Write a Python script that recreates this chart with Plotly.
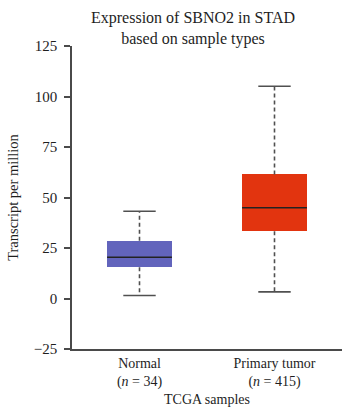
import plotly.graph_objects as go

# Box-plot summary statistics (TPM) per sample group
categories = ["Normal", "Primary tumor"]
sample_sizes = [34, 415]
lower_whisker = [1.5, 3.3]
q1 = [15.5, 33.3]
median = [20.4, 44.9]
q3 = [28.6, 61.4]
upper_whisker = [43.2, 105.1]
box_colors = ["#6264BC", "#E2340F"]

y_tick_vals = [-25, 0, 25, 50, 75, 100, 125]

BOX_W = 0.48
CAP_W = 0.24
SERIF = "Liberation Serif"
AXIS_COLOR = "#4a4a4a"
TEXT_COLOR = "#1e1e1e"

fig = go.Figure()

# boxes (interquartile range) as floating bars
for i, cat in enumerate(categories):
    fig.add_trace(go.Bar(
        x=[i], y=[q3[i] - q1[i]], base=[q1[i]], width=BOX_W,
        marker=dict(color=box_colors[i], line=dict(width=0)),
        showlegend=False, hoverinfo="skip",
    ))

# dashed whiskers
wx, wy = [], []
for i in range(len(categories)):
    wx += [i, i, None, i, i, None]
    wy += [q3[i], upper_whisker[i], None, q1[i], lower_whisker[i], None]
fig.add_trace(go.Scatter(
    x=wx, y=wy, mode="lines",
    line=dict(color="#505050", width=1.6, dash="4px,3px"),
    showlegend=False, hoverinfo="skip",
))

# whisker caps
cx, cy = [], []
for i in range(len(categories)):
    for v in (upper_whisker[i], lower_whisker[i]):
        cx += [i - CAP_W / 2, i + CAP_W / 2, None]
        cy += [v, v, None]
fig.add_trace(go.Scatter(
    x=cx, y=cy, mode="lines",
    line=dict(color="#505050", width=1.6),
    showlegend=False, hoverinfo="skip",
))

# medians
mx, my = [], []
for i in range(len(categories)):
    mx += [i - BOX_W / 2, i + BOX_W / 2, None]
    my += [median[i], median[i], None]
fig.add_trace(go.Scatter(
    x=mx, y=my, mode="lines",
    line=dict(color="#222222", width=1.5),
    showlegend=False, hoverinfo="skip",
))

tick_text = [f"{c}<br>(<i>n</i> = {n})" for c, n in zip(categories, sample_sizes)]

# two-line chart title
fig.add_annotation(
    text="Expression of SBNO2 in STAD<br>based on sample types",
    xref="paper", yref="paper", x=0.448, y=1.058,
    xanchor="center", yanchor="middle", showarrow=False,
    font=dict(family=SERIF, size=16, color=TEXT_COLOR),
)

fig.update_layout(
    width=345, height=407,
    margin=dict(l=72, r=3, t=46, b=58),
    paper_bgcolor="white", plot_bgcolor="white",
    font=dict(family=SERIF, size=14, color=TEXT_COLOR),
    xaxis=dict(
        range=[-0.5, 1.5], automargin=False,
        tickmode="array", tickvals=list(range(len(categories))), ticktext=tick_text,
        showline=True, linecolor=AXIS_COLOR, linewidth=1.5,
        ticks="", showgrid=False, zeroline=False,
        tickfont=dict(size=14),
        title=dict(text="TCGA samples", font=dict(size=14), standoff=6),
    ),
    yaxis=dict(
        range=[-25, 125], automargin=False,
        tickmode="array", tickvals=y_tick_vals,
        showline=True, linecolor=AXIS_COLOR, linewidth=1.5,
        ticks="outside", ticklen=6, tickcolor=AXIS_COLOR, tickwidth=1.5,
        ticklabelstandoff=4,
        showgrid=False, zeroline=False,
        tickfont=dict(size=15),
        title=dict(text="Transcript per million", font=dict(size=14.5), standoff=12),
    ),
    bargap=0,
)

fig.write_html("out.html")
